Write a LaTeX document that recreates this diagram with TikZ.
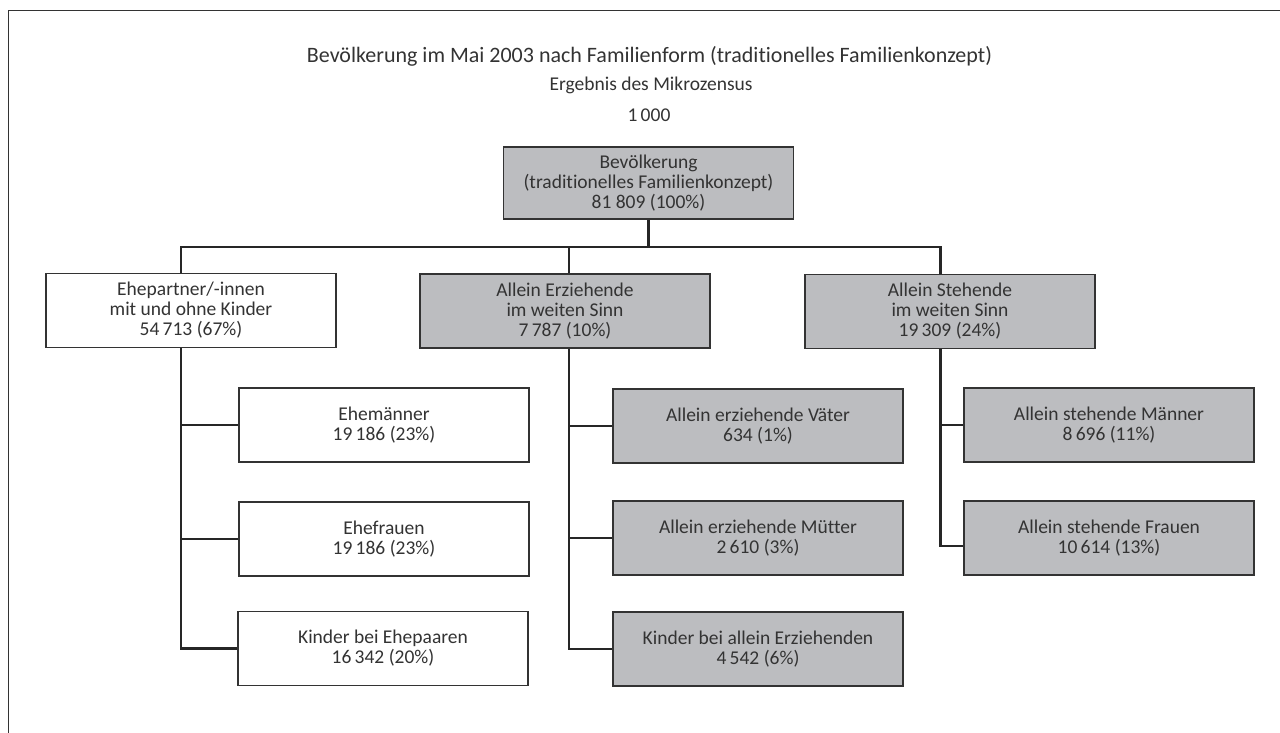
\documentclass[tikz,border=0pt]{standalone}
\usepackage{fontspec}
\setmainfont{Carlito}[Ligatures=NoCommon]
\usepackage{tikz}

\definecolor{boxgray}{HTML}{BCBDC0}
\definecolor{inkgray}{HTML}{333333}

\tikzset{
    unitbox/.style={draw=inkgray, line width=1.3pt, align=center, text=inkgray,
        minimum width=290pt, minimum height=74pt, inner sep=0pt,
        font=\fontsize{19.5}{20}\selectfont},
    graybox/.style={unitbox, fill=boxgray},
    whitebox/.style={unitbox, fill=white},
    link/.style={draw=black!85, line width=2.4pt},
    headline/.style={text=inkgray, inner sep=0pt}
}

\begin{document}
\begin{tikzpicture}[x=1pt,y=-1pt]
        \useasboundingbox (0,0) rectangle (1280,733);
        \draw [line width=1pt, black!80] (1280,11) -- (8.5,11) -- (8.5,733);

        \node[headline, font=\fontsize{22}{24}\selectfont] (title) at (649.5,56) {Bevölkerung im Mai 2003 nach Familienform (traditionelles Familienkonzept)};
        \node[headline, font=\fontsize{19.5}{20}\selectfont] (subtitle) at (651,85) {Ergebnis des Mikrozensus};
        \node[headline, font=\fontsize{19.5}{20}\selectfont] (unit) at (649,115) {1\,000};

        \node[graybox, minimum height=72pt] (pop) at (648.5,183) {Bevölkerung\\(traditionelles Familienkonzept)\\81 809 (100\%)};

        \node[whitebox] (ehe) at (191,310.5) {Ehepartner/-innen\\mit und ohne Kinder\\54\,713 (67\%)};
        \node[graybox] (allerz) at (565,311) {Allein Erziehende\\im weiten Sinn\\7\,787 (10\%)};
        \node[graybox] (allst) at (950,311.5) {Allein Stehende\\im weiten Sinn\\19\,309 (24\%)};

        \node[whitebox] (maenner) at (384,425) {Ehemänner\\19\,186 (23\%)};
        \node[whitebox] (frauen) at (384,539) {Ehefrauen\\19\,186 (23\%)};
        \node[whitebox] (kindehe) at (383,648.5) {Kinder bei Ehepaaren\\16\,342 (20\%)};

        \node[graybox] (vaeter) at (758,426) {Allein erziehende Väter\\634 (1\%)};
        \node[graybox] (muetter) at (758,538) {Allein erziehende Mütter\\2\,610 (3\%)};
        \node[graybox] (kindall) at (758,649) {Kinder bei allein Erziehenden\\4\,542 (6\%)};

        \node[graybox] (maennerst) at (1109,425) {Allein stehende Männer\\8\,696 (11\%)};
        \node[graybox] (frauenst) at (1109,538) {Allein stehende Frauen\\10\,614 (13\%)};

        % bus below the top box
        \coordinate (busL) at (181,247);
        \coordinate (busM) at (569,247);
        \coordinate (busR) at (940.5,247);
        \draw [link] (pop.south) -- (pop.south |- busL);
        \draw [link] (busL |- ehe.north) -- (busL) -- (busR) -- (busR |- allst.north);
        \draw [link] (busM) -- (busM |- allerz.north);

        % left column
        \draw [link] (busL |- ehe.south) |- (kindehe.west);
        \draw [link] (busL |- maenner.west) -- (maenner.west);
        \draw [link] (busL |- frauen.west) -- (frauen.west);

        % middle column
        \draw [link] (busM |- allerz.south) |- (kindall.west);
        \draw [link] (busM |- vaeter.west) -- (vaeter.west);
        \draw [link] (busM |- muetter.west) -- (muetter.west);

        % right column
        \draw [link] (busR |- allst.south) |- ([yshift=-8pt]frauenst.west);
        \draw [link] (busR |- maennerst.west) -- (maennerst.west);
    \end{tikzpicture}
\end{document}
